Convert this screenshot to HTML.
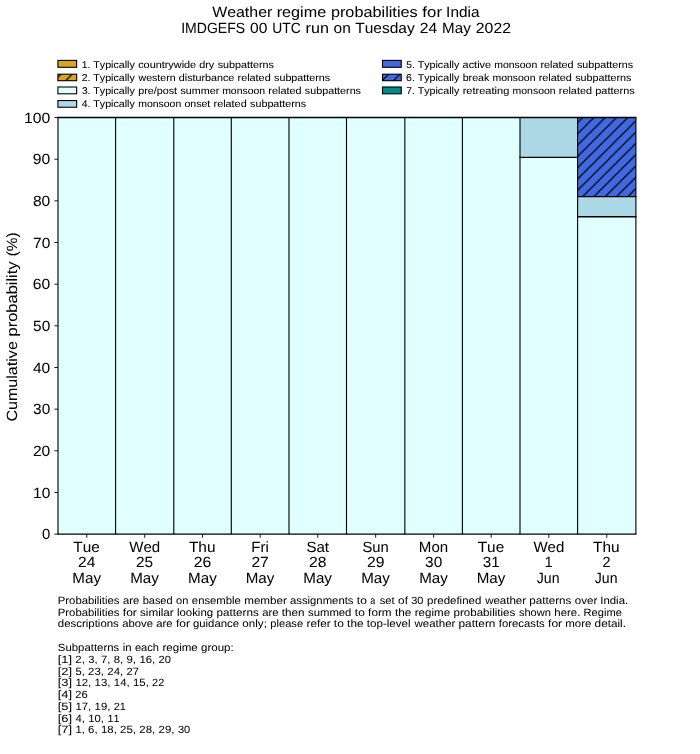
<!DOCTYPE html>
<html><head><meta charset="utf-8"><title>Weather regime probabilities for India</title>
<style>
html,body{margin:0;padding:0;background:#fff;width:700px;height:754px;overflow:hidden;}
svg{display:block;will-change:transform;}
text{font-family:"Liberation Sans",sans-serif;fill:#000;text-rendering:geometricPrecision;stroke:#000;stroke-width:0.03px;font-kerning:none;font-variant-ligatures:none;}
</style></head><body>
<svg width="700" height="754" viewBox="0 0 700 754">
<defs><pattern id="hb" patternUnits="userSpaceOnUse" x="-0.450" y="0" width="11.300" height="11.300"><path d="M-1.000,12.300L12.300,-1.000M-1,1L1,-1M10.300,12.300L12.300,10.300" stroke="#000" stroke-width="1.2" fill="none"/></pattern></defs>
<rect x="0" y="0" width="700" height="754" fill="#fff"/>
<text x="212.18" y="17.20" font-size="14.80" textLength="60.10" lengthAdjust="spacingAndGlyphs">Weather</text><text x="276.68" y="17.20" font-size="14.80" textLength="49.47" lengthAdjust="spacingAndGlyphs">regime</text><text x="330.90" y="17.20" font-size="14.80" textLength="86.79" lengthAdjust="spacingAndGlyphs">probabilities</text><text x="422.38" y="17.20" font-size="14.80" textLength="19.61" lengthAdjust="spacingAndGlyphs">for</text><text x="446.14" y="17.20" font-size="14.80" textLength="33.36" lengthAdjust="spacingAndGlyphs">India</text>
<text x="181.21" y="32.70" font-size="14.80" textLength="63.86" lengthAdjust="spacingAndGlyphs">IMDGEFS</text><text x="249.99" y="32.70" font-size="14.80" textLength="17.32" lengthAdjust="spacingAndGlyphs">00</text><text x="272.28" y="32.70" font-size="14.80" textLength="28.38" lengthAdjust="spacingAndGlyphs">UTC</text><text x="305.58" y="32.70" font-size="14.80" textLength="23.28" lengthAdjust="spacingAndGlyphs">run</text><text x="333.63" y="32.70" font-size="14.80" textLength="17.25" lengthAdjust="spacingAndGlyphs">on</text><text x="355.19" y="32.70" font-size="14.80" textLength="59.46" lengthAdjust="spacingAndGlyphs">Tuesday</text><text x="419.78" y="32.70" font-size="14.80" textLength="17.36" lengthAdjust="spacingAndGlyphs">24</text><text x="442.08" y="32.70" font-size="14.80" textLength="28.64" lengthAdjust="spacingAndGlyphs">May</text><text x="475.83" y="32.70" font-size="14.80" textLength="35.10" lengthAdjust="spacingAndGlyphs">2022</text>
<rect x="57.90" y="60.40" width="18.75" height="6.90" fill="#DAA520" stroke="none"/>
<rect x="57.90" y="60.40" width="18.75" height="6.90" fill="none" stroke="#000" stroke-width="1.1"/>
<text x="81.86" y="67.60" font-size="9.87" textLength="8.65" lengthAdjust="spacingAndGlyphs" style="stroke-width:0.06px">1.</text><text x="93.29" y="67.60" font-size="9.87" textLength="41.57" lengthAdjust="spacingAndGlyphs" style="stroke-width:0.06px">Typically</text><text x="138.19" y="67.60" font-size="9.87" textLength="57.93" lengthAdjust="spacingAndGlyphs" style="stroke-width:0.06px">countrywide</text><text x="199.19" y="67.60" font-size="9.87" textLength="15.08" lengthAdjust="spacingAndGlyphs" style="stroke-width:0.06px">dry</text><text x="217.74" y="67.60" font-size="9.87" textLength="56.13" lengthAdjust="spacingAndGlyphs" style="stroke-width:0.06px">subpatterns</text>
<rect x="57.90" y="74.20" width="18.75" height="6.50" fill="#DAA520" stroke="none"/>
<rect x="57.90" y="74.20" width="18.75" height="6.50" fill="url(#hb)" stroke="none"/>
<rect x="57.90" y="74.20" width="18.75" height="6.50" fill="none" stroke="#000" stroke-width="1.1"/>
<text x="81.76" y="80.80" font-size="9.87" textLength="8.76" lengthAdjust="spacingAndGlyphs" style="stroke-width:0.06px">2.</text><text x="93.29" y="80.80" font-size="9.87" textLength="41.57" lengthAdjust="spacingAndGlyphs" style="stroke-width:0.06px">Typically</text><text x="138.56" y="80.80" font-size="9.87" textLength="37.08" lengthAdjust="spacingAndGlyphs" style="stroke-width:0.06px">western</text><text x="178.84" y="80.80" font-size="9.87" textLength="55.53" lengthAdjust="spacingAndGlyphs" style="stroke-width:0.06px">disturbance</text><text x="237.54" y="80.80" font-size="9.87" textLength="33.13" lengthAdjust="spacingAndGlyphs" style="stroke-width:0.06px">related</text><text x="274.06" y="80.80" font-size="9.87" textLength="56.13" lengthAdjust="spacingAndGlyphs" style="stroke-width:0.06px">subpatterns</text>
<rect x="57.90" y="87.00" width="18.75" height="6.80" fill="#E0FFFF" stroke="none"/>
<rect x="57.90" y="87.00" width="18.75" height="6.80" fill="none" stroke="#000" stroke-width="1.1"/>
<text x="81.92" y="93.95" font-size="9.87" textLength="8.57" lengthAdjust="spacingAndGlyphs" style="stroke-width:0.06px">3.</text><text x="93.29" y="93.95" font-size="9.87" textLength="41.57" lengthAdjust="spacingAndGlyphs" style="stroke-width:0.06px">Typically</text><text x="138.28" y="93.95" font-size="9.87" textLength="38.78" lengthAdjust="spacingAndGlyphs" style="stroke-width:0.06px">pre/post</text><text x="180.43" y="93.95" font-size="9.87" textLength="38.79" lengthAdjust="spacingAndGlyphs" style="stroke-width:0.06px">summer</text><text x="222.15" y="93.95" font-size="9.87" textLength="42.98" lengthAdjust="spacingAndGlyphs" style="stroke-width:0.06px">monsoon</text><text x="268.37" y="93.95" font-size="9.87" textLength="33.13" lengthAdjust="spacingAndGlyphs" style="stroke-width:0.06px">related</text><text x="304.89" y="93.95" font-size="9.87" textLength="56.13" lengthAdjust="spacingAndGlyphs" style="stroke-width:0.06px">subpatterns</text>
<rect x="57.90" y="100.54" width="18.75" height="6.70" fill="#ADD8E6" stroke="none"/>
<rect x="57.90" y="100.54" width="18.75" height="6.70" fill="none" stroke="#000" stroke-width="1.1"/>
<text x="81.81" y="106.80" font-size="9.87" textLength="8.69" lengthAdjust="spacingAndGlyphs" style="stroke-width:0.06px">4.</text><text x="93.29" y="106.80" font-size="9.87" textLength="41.57" lengthAdjust="spacingAndGlyphs" style="stroke-width:0.06px">Typically</text><text x="138.28" y="106.80" font-size="9.87" textLength="42.98" lengthAdjust="spacingAndGlyphs" style="stroke-width:0.06px">monsoon</text><text x="184.42" y="106.80" font-size="9.87" textLength="25.86" lengthAdjust="spacingAndGlyphs" style="stroke-width:0.06px">onset</text><text x="213.56" y="106.80" font-size="9.87" textLength="33.13" lengthAdjust="spacingAndGlyphs" style="stroke-width:0.06px">related</text><text x="250.08" y="106.80" font-size="9.87" textLength="56.13" lengthAdjust="spacingAndGlyphs" style="stroke-width:0.06px">subpatterns</text>
<rect x="382.50" y="60.40" width="18.75" height="6.90" fill="#4169E1" stroke="none"/>
<rect x="382.50" y="60.40" width="18.75" height="6.90" fill="none" stroke="#000" stroke-width="1.1"/>
<text x="406.32" y="67.60" font-size="9.87" textLength="8.58" lengthAdjust="spacingAndGlyphs" style="stroke-width:0.06px">5.</text><text x="417.69" y="67.60" font-size="9.87" textLength="41.57" lengthAdjust="spacingAndGlyphs" style="stroke-width:0.06px">Typically</text><text x="462.64" y="67.60" font-size="9.87" textLength="28.44" lengthAdjust="spacingAndGlyphs" style="stroke-width:0.06px">active</text><text x="494.24" y="67.60" font-size="9.87" textLength="42.98" lengthAdjust="spacingAndGlyphs" style="stroke-width:0.06px">monsoon</text><text x="540.46" y="67.60" font-size="9.87" textLength="33.13" lengthAdjust="spacingAndGlyphs" style="stroke-width:0.06px">related</text><text x="576.98" y="67.60" font-size="9.87" textLength="56.13" lengthAdjust="spacingAndGlyphs" style="stroke-width:0.06px">subpatterns</text>
<rect x="382.50" y="74.20" width="18.75" height="6.50" fill="#4169E1" stroke="none"/>
<rect x="382.50" y="74.20" width="18.75" height="6.50" fill="url(#hb)" stroke="none"/>
<rect x="382.50" y="74.20" width="18.75" height="6.50" fill="none" stroke="#000" stroke-width="1.1"/>
<text x="406.13" y="80.80" font-size="9.87" textLength="8.79" lengthAdjust="spacingAndGlyphs" style="stroke-width:0.06px">6.</text><text x="417.69" y="80.80" font-size="9.87" textLength="41.57" lengthAdjust="spacingAndGlyphs" style="stroke-width:0.06px">Typically</text><text x="462.69" y="80.80" font-size="9.87" textLength="26.61" lengthAdjust="spacingAndGlyphs" style="stroke-width:0.06px">break</text><text x="492.48" y="80.80" font-size="9.87" textLength="42.98" lengthAdjust="spacingAndGlyphs" style="stroke-width:0.06px">monsoon</text><text x="538.70" y="80.80" font-size="9.87" textLength="33.13" lengthAdjust="spacingAndGlyphs" style="stroke-width:0.06px">related</text><text x="575.22" y="80.80" font-size="9.87" textLength="56.13" lengthAdjust="spacingAndGlyphs" style="stroke-width:0.06px">subpatterns</text>
<rect x="382.50" y="87.00" width="18.75" height="6.80" fill="#008B8B" stroke="none"/>
<rect x="382.50" y="87.00" width="18.75" height="6.80" fill="none" stroke="#000" stroke-width="1.1"/>
<text x="406.26" y="93.95" font-size="9.87" textLength="8.64" lengthAdjust="spacingAndGlyphs" style="stroke-width:0.06px">7.</text><text x="417.69" y="93.95" font-size="9.87" textLength="41.57" lengthAdjust="spacingAndGlyphs" style="stroke-width:0.06px">Typically</text><text x="462.66" y="93.95" font-size="9.87" textLength="46.67" lengthAdjust="spacingAndGlyphs" style="stroke-width:0.06px">retreating</text><text x="512.62" y="93.95" font-size="9.87" textLength="42.98" lengthAdjust="spacingAndGlyphs" style="stroke-width:0.06px">monsoon</text><text x="558.84" y="93.95" font-size="9.87" textLength="33.13" lengthAdjust="spacingAndGlyphs" style="stroke-width:0.06px">related</text><text x="595.28" y="93.95" font-size="9.87" textLength="39.40" lengthAdjust="spacingAndGlyphs" style="stroke-width:0.06px">patterns</text>
<rect x="58.00" y="117.53" width="462.00" height="416.62" fill="#E0FFFF"/>
<rect x="520.00" y="157.40" width="57.60" height="376.75" fill="#E0FFFF"/>
<rect x="520.00" y="117.53" width="57.60" height="39.87" fill="#ADD8E6"/>
<rect x="577.60" y="216.70" width="58.30" height="317.45" fill="#E0FFFF"/>
<rect x="577.60" y="196.55" width="58.30" height="20.15" fill="#ADD8E6"/>
<rect x="577.60" y="117.53" width="58.30" height="79.02" fill="#4169E1"/>
<rect x="577.60" y="117.53" width="58.30" height="79.02" fill="url(#hb)"/>
<line x1="58.00" y1="117.53" x2="58.00" y2="534.15" stroke="#000" stroke-width="1.12"/>
<line x1="115.60" y1="117.53" x2="115.60" y2="534.15" stroke="#000" stroke-width="1.12"/>
<line x1="173.80" y1="117.53" x2="173.80" y2="534.15" stroke="#000" stroke-width="1.12"/>
<line x1="231.30" y1="117.53" x2="231.30" y2="534.15" stroke="#000" stroke-width="1.12"/>
<line x1="289.00" y1="117.53" x2="289.00" y2="534.15" stroke="#000" stroke-width="1.12"/>
<line x1="346.50" y1="117.53" x2="346.50" y2="534.15" stroke="#000" stroke-width="1.12"/>
<line x1="404.85" y1="117.53" x2="404.85" y2="534.15" stroke="#000" stroke-width="1.12"/>
<line x1="462.40" y1="117.53" x2="462.40" y2="534.15" stroke="#000" stroke-width="1.12"/>
<line x1="520.00" y1="117.53" x2="520.00" y2="534.15" stroke="#000" stroke-width="1.12"/>
<line x1="577.60" y1="117.53" x2="577.60" y2="534.15" stroke="#000" stroke-width="1.12"/>
<line x1="635.90" y1="117.53" x2="635.90" y2="534.15" stroke="#000" stroke-width="1.12"/>
<line x1="57.44" y1="117.53" x2="636.46" y2="117.53" stroke="#000" stroke-width="1.35"/>
<line x1="57.44" y1="534.15" x2="636.46" y2="534.15" stroke="#000" stroke-width="1.35"/>
<line x1="519.44" y1="157.40" x2="578.16" y2="157.40" stroke="#000" stroke-width="1.35"/>
<line x1="577.04" y1="216.70" x2="636.46" y2="216.70" stroke="#000" stroke-width="1.35"/>
<line x1="577.04" y1="196.55" x2="636.46" y2="196.55" stroke="#000" stroke-width="1.35"/>
<line x1="54.40" y1="534.15" x2="58.00" y2="534.15" stroke="#000" stroke-width="0.9"/>
<text x="41.95" y="539.45" font-size="14.80" textLength="8.28" lengthAdjust="spacingAndGlyphs">0</text>
<line x1="54.40" y1="492.49" x2="58.00" y2="492.49" stroke="#000" stroke-width="0.9"/>
<text x="33.05" y="497.79" font-size="14.80" textLength="17.22" lengthAdjust="spacingAndGlyphs">10</text>
<line x1="54.40" y1="450.83" x2="58.00" y2="450.83" stroke="#000" stroke-width="0.9"/>
<text x="32.90" y="456.13" font-size="14.80" textLength="17.37" lengthAdjust="spacingAndGlyphs">20</text>
<line x1="54.40" y1="409.16" x2="58.00" y2="409.16" stroke="#000" stroke-width="0.9"/>
<text x="33.14" y="414.46" font-size="14.80" textLength="17.13" lengthAdjust="spacingAndGlyphs">30</text>
<line x1="54.40" y1="367.50" x2="58.00" y2="367.50" stroke="#000" stroke-width="0.9"/>
<text x="32.98" y="372.80" font-size="14.80" textLength="17.29" lengthAdjust="spacingAndGlyphs">40</text>
<line x1="54.40" y1="325.84" x2="58.00" y2="325.84" stroke="#000" stroke-width="0.9"/>
<text x="33.14" y="331.14" font-size="14.80" textLength="17.13" lengthAdjust="spacingAndGlyphs">50</text>
<line x1="54.40" y1="284.18" x2="58.00" y2="284.18" stroke="#000" stroke-width="0.9"/>
<text x="32.87" y="289.48" font-size="14.80" textLength="17.41" lengthAdjust="spacingAndGlyphs">60</text>
<line x1="54.40" y1="242.52" x2="58.00" y2="242.52" stroke="#000" stroke-width="0.9"/>
<text x="33.05" y="247.82" font-size="14.80" textLength="17.22" lengthAdjust="spacingAndGlyphs">70</text>
<line x1="54.40" y1="200.85" x2="58.00" y2="200.85" stroke="#000" stroke-width="0.9"/>
<text x="32.95" y="206.15" font-size="14.80" textLength="17.32" lengthAdjust="spacingAndGlyphs">80</text>
<line x1="54.40" y1="159.19" x2="58.00" y2="159.19" stroke="#000" stroke-width="0.9"/>
<text x="32.80" y="164.49" font-size="14.80" textLength="17.48" lengthAdjust="spacingAndGlyphs">90</text>
<line x1="54.40" y1="117.53" x2="58.00" y2="117.53" stroke="#000" stroke-width="0.9"/>
<text x="24.07" y="122.83" font-size="14.80" textLength="26.24" lengthAdjust="spacingAndGlyphs">100</text>
<line x1="86.80" y1="534.15" x2="86.80" y2="537.75" stroke="#000" stroke-width="0.9"/>
<text x="73.32" y="551.50" font-size="14.80" textLength="26.48" lengthAdjust="spacingAndGlyphs">Tue</text>
<text x="78.07" y="567.20" font-size="14.80" textLength="17.36" lengthAdjust="spacingAndGlyphs">24</text>
<text x="72.34" y="582.90" font-size="14.80" textLength="28.64" lengthAdjust="spacingAndGlyphs">May</text>
<line x1="144.70" y1="534.15" x2="144.70" y2="537.75" stroke="#000" stroke-width="0.9"/>
<text x="129.30" y="551.50" font-size="14.80" textLength="30.87" lengthAdjust="spacingAndGlyphs">Wed</text>
<text x="135.98" y="567.20" font-size="14.80" textLength="17.11" lengthAdjust="spacingAndGlyphs">25</text>
<text x="130.24" y="582.90" font-size="14.80" textLength="28.64" lengthAdjust="spacingAndGlyphs">May</text>
<line x1="202.55" y1="534.15" x2="202.55" y2="537.75" stroke="#000" stroke-width="0.9"/>
<text x="188.92" y="551.50" font-size="14.80" textLength="26.59" lengthAdjust="spacingAndGlyphs">Thu</text>
<text x="193.82" y="567.20" font-size="14.80" textLength="17.50" lengthAdjust="spacingAndGlyphs">26</text>
<text x="188.09" y="582.90" font-size="14.80" textLength="28.64" lengthAdjust="spacingAndGlyphs">May</text>
<line x1="260.15" y1="534.15" x2="260.15" y2="537.75" stroke="#000" stroke-width="0.9"/>
<text x="251.39" y="551.50" font-size="14.80" textLength="17.36" lengthAdjust="spacingAndGlyphs">Fri</text>
<text x="251.43" y="567.20" font-size="14.80" textLength="17.28" lengthAdjust="spacingAndGlyphs">27</text>
<text x="245.69" y="582.90" font-size="14.80" textLength="28.64" lengthAdjust="spacingAndGlyphs">May</text>
<line x1="317.75" y1="534.15" x2="317.75" y2="537.75" stroke="#000" stroke-width="0.9"/>
<text x="306.43" y="551.50" font-size="14.80" textLength="22.65" lengthAdjust="spacingAndGlyphs">Sat</text>
<text x="309.02" y="567.20" font-size="14.80" textLength="17.42" lengthAdjust="spacingAndGlyphs">28</text>
<text x="303.29" y="582.90" font-size="14.80" textLength="28.64" lengthAdjust="spacingAndGlyphs">May</text>
<line x1="375.68" y1="534.15" x2="375.68" y2="537.75" stroke="#000" stroke-width="0.9"/>
<text x="362.51" y="551.50" font-size="14.80" textLength="26.34" lengthAdjust="spacingAndGlyphs">Sun</text>
<text x="366.94" y="567.20" font-size="14.80" textLength="17.42" lengthAdjust="spacingAndGlyphs">29</text>
<text x="361.22" y="582.90" font-size="14.80" textLength="28.64" lengthAdjust="spacingAndGlyphs">May</text>
<line x1="433.62" y1="534.15" x2="433.62" y2="537.75" stroke="#000" stroke-width="0.9"/>
<text x="418.88" y="551.50" font-size="14.80" textLength="29.37" lengthAdjust="spacingAndGlyphs">Mon</text>
<text x="425.14" y="567.20" font-size="14.80" textLength="17.13" lengthAdjust="spacingAndGlyphs">30</text>
<text x="419.17" y="582.90" font-size="14.80" textLength="28.64" lengthAdjust="spacingAndGlyphs">May</text>
<line x1="491.20" y1="534.15" x2="491.20" y2="537.75" stroke="#000" stroke-width="0.9"/>
<text x="477.72" y="551.50" font-size="14.80" textLength="26.48" lengthAdjust="spacingAndGlyphs">Tue</text>
<text x="482.72" y="567.20" font-size="14.80" textLength="16.91" lengthAdjust="spacingAndGlyphs">31</text>
<text x="476.74" y="582.90" font-size="14.80" textLength="28.64" lengthAdjust="spacingAndGlyphs">May</text>
<line x1="548.80" y1="534.15" x2="548.80" y2="537.75" stroke="#000" stroke-width="0.9"/>
<text x="533.40" y="551.50" font-size="14.80" textLength="30.87" lengthAdjust="spacingAndGlyphs">Wed</text>
<text x="544.80" y="567.20" font-size="14.80" textLength="7.87" lengthAdjust="spacingAndGlyphs">1</text>
<text x="536.83" y="582.90" font-size="14.80" textLength="22.70" lengthAdjust="spacingAndGlyphs">Jun</text>
<line x1="606.75" y1="534.15" x2="606.75" y2="537.75" stroke="#000" stroke-width="0.9"/>
<text x="593.12" y="551.50" font-size="14.80" textLength="26.59" lengthAdjust="spacingAndGlyphs">Thu</text>
<text x="602.57" y="567.20" font-size="14.80" textLength="8.00" lengthAdjust="spacingAndGlyphs">2</text>
<text x="594.78" y="582.90" font-size="14.80" textLength="22.70" lengthAdjust="spacingAndGlyphs">Jun</text>
<g transform="translate(16.80,326.90) rotate(-90)"><text x="-94.73" y="0.00" font-size="14.80" textLength="80.48" lengthAdjust="spacingAndGlyphs">Cumulative</text><text x="-9.53" y="0.00" font-size="14.80" textLength="74.96" lengthAdjust="spacingAndGlyphs">probability</text><text x="70.55" y="0.00" font-size="14.80" textLength="23.88" lengthAdjust="spacingAndGlyphs">(%)</text></g>
<text x="57.79" y="603.90" font-size="10.56" textLength="61.69" lengthAdjust="spacingAndGlyphs">Probabilities</text><text x="122.92" y="603.90" font-size="10.56" textLength="16.30" lengthAdjust="spacingAndGlyphs">are</text><text x="142.67" y="603.90" font-size="10.56" textLength="29.95" lengthAdjust="spacingAndGlyphs">based</text><text x="176.13" y="603.90" font-size="10.56" textLength="12.31" lengthAdjust="spacingAndGlyphs">on</text><text x="191.85" y="603.90" font-size="10.56" textLength="49.05" lengthAdjust="spacingAndGlyphs">ensemble</text><text x="244.26" y="603.90" font-size="10.56" textLength="42.58" lengthAdjust="spacingAndGlyphs">member</text><text x="289.96" y="603.90" font-size="10.56" textLength="63.55" lengthAdjust="spacingAndGlyphs">assignments</text><text x="356.89" y="603.90" font-size="10.56" textLength="9.94" lengthAdjust="spacingAndGlyphs">to</text><text x="370.31" y="603.90" font-size="10.56" textLength="5.01" lengthAdjust="spacingAndGlyphs">a</text><text x="379.70" y="603.90" font-size="10.56" textLength="14.95" lengthAdjust="spacingAndGlyphs">set</text><text x="398.08" y="603.90" font-size="10.56" textLength="9.83" lengthAdjust="spacingAndGlyphs">of</text><text x="411.27" y="603.90" font-size="10.56" textLength="12.22" lengthAdjust="spacingAndGlyphs">30</text><text x="427.08" y="603.90" font-size="10.56" textLength="54.23" lengthAdjust="spacingAndGlyphs">predefined</text><text x="485.15" y="603.90" font-size="10.56" textLength="40.96" lengthAdjust="spacingAndGlyphs">weather</text><text x="529.26" y="603.90" font-size="10.56" textLength="42.16" lengthAdjust="spacingAndGlyphs">patterns</text><text x="574.76" y="603.90" font-size="10.56" textLength="22.57" lengthAdjust="spacingAndGlyphs">over</text><text x="600.25" y="603.90" font-size="10.56" textLength="27.91" lengthAdjust="spacingAndGlyphs">India.</text>
<text x="57.79" y="615.67" font-size="10.56" textLength="61.69" lengthAdjust="spacingAndGlyphs">Probabilities</text><text x="122.84" y="615.67" font-size="10.56" textLength="13.99" lengthAdjust="spacingAndGlyphs">for</text><text x="140.06" y="615.67" font-size="10.56" textLength="33.67" lengthAdjust="spacingAndGlyphs">similar</text><text x="176.94" y="615.67" font-size="10.56" textLength="36.14" lengthAdjust="spacingAndGlyphs">looking</text><text x="216.60" y="615.67" font-size="10.56" textLength="42.16" lengthAdjust="spacingAndGlyphs">patterns</text><text x="262.15" y="615.67" font-size="10.56" textLength="16.30" lengthAdjust="spacingAndGlyphs">are</text><text x="281.81" y="615.67" font-size="10.56" textLength="22.68" lengthAdjust="spacingAndGlyphs">then</text><text x="308.04" y="615.67" font-size="10.56" textLength="43.37" lengthAdjust="spacingAndGlyphs">summed</text><text x="354.89" y="615.67" font-size="10.56" textLength="9.94" lengthAdjust="spacingAndGlyphs">to</text><text x="368.14" y="615.67" font-size="10.56" textLength="23.50" lengthAdjust="spacingAndGlyphs">form</text><text x="395.02" y="615.67" font-size="10.56" textLength="16.40" lengthAdjust="spacingAndGlyphs">the</text><text x="414.78" y="615.67" font-size="10.56" textLength="35.30" lengthAdjust="spacingAndGlyphs">regime</text><text x="453.46" y="615.67" font-size="10.56" textLength="61.92" lengthAdjust="spacingAndGlyphs">probabilities</text><text x="518.94" y="615.67" font-size="10.56" textLength="31.98" lengthAdjust="spacingAndGlyphs">shown</text><text x="554.38" y="615.67" font-size="10.56" textLength="25.92" lengthAdjust="spacingAndGlyphs">here.</text><text x="583.62" y="615.67" font-size="10.56" textLength="38.23" lengthAdjust="spacingAndGlyphs">Regime</text>
<text x="57.81" y="627.44" font-size="10.56" textLength="61.02" lengthAdjust="spacingAndGlyphs">descriptions</text><text x="122.25" y="627.44" font-size="10.56" textLength="30.69" lengthAdjust="spacingAndGlyphs">above</text><text x="156.30" y="627.44" font-size="10.56" textLength="16.30" lengthAdjust="spacingAndGlyphs">are</text><text x="175.91" y="627.44" font-size="10.56" textLength="13.99" lengthAdjust="spacingAndGlyphs">for</text><text x="192.96" y="627.44" font-size="10.56" textLength="46.11" lengthAdjust="spacingAndGlyphs">guidance</text><text x="242.37" y="627.44" font-size="10.56" textLength="24.50" lengthAdjust="spacingAndGlyphs">only;</text><text x="270.37" y="627.44" font-size="10.56" textLength="32.71" lengthAdjust="spacingAndGlyphs">please</text><text x="306.49" y="627.44" font-size="10.56" textLength="24.23" lengthAdjust="spacingAndGlyphs">refer</text><text x="333.83" y="627.44" font-size="10.56" textLength="9.94" lengthAdjust="spacingAndGlyphs">to</text><text x="347.13" y="627.44" font-size="10.56" textLength="16.40" lengthAdjust="spacingAndGlyphs">the</text><text x="366.84" y="627.44" font-size="10.56" textLength="43.79" lengthAdjust="spacingAndGlyphs">top-level</text><text x="414.43" y="627.44" font-size="10.56" textLength="40.96" lengthAdjust="spacingAndGlyphs">weather</text><text x="458.54" y="627.44" font-size="10.56" textLength="36.90" lengthAdjust="spacingAndGlyphs">pattern</text><text x="498.80" y="627.44" font-size="10.56" textLength="45.99" lengthAdjust="spacingAndGlyphs">forecasts</text><text x="548.13" y="627.44" font-size="10.56" textLength="13.99" lengthAdjust="spacingAndGlyphs">for</text><text x="565.24" y="627.44" font-size="10.56" textLength="26.11" lengthAdjust="spacingAndGlyphs">more</text><text x="594.64" y="627.44" font-size="10.56" textLength="31.39" lengthAdjust="spacingAndGlyphs">detail.</text>
<text x="57.88" y="650.98" font-size="10.56" textLength="61.32" lengthAdjust="spacingAndGlyphs">Subpatterns</text><text x="122.66" y="650.98" font-size="10.56" textLength="8.85" lengthAdjust="spacingAndGlyphs">in</text><text x="134.93" y="650.98" font-size="10.56" textLength="24.03" lengthAdjust="spacingAndGlyphs">each</text><text x="162.46" y="650.98" font-size="10.56" textLength="35.30" lengthAdjust="spacingAndGlyphs">regime</text><text x="201.06" y="650.98" font-size="10.56" textLength="32.64" lengthAdjust="spacingAndGlyphs">group:</text>
<text x="57.69" y="662.75" font-size="10.56" textLength="14.36" lengthAdjust="spacingAndGlyphs">[1]</text><text x="75.34" y="662.75" font-size="10.56" textLength="9.49" lengthAdjust="spacingAndGlyphs">2,</text><text x="88.32" y="662.75" font-size="10.56" textLength="9.30" lengthAdjust="spacingAndGlyphs">3,</text><text x="101.04" y="662.75" font-size="10.56" textLength="9.37" lengthAdjust="spacingAndGlyphs">7,</text><text x="113.77" y="662.75" font-size="10.56" textLength="9.45" lengthAdjust="spacingAndGlyphs">8,</text><text x="126.45" y="662.75" font-size="10.56" textLength="9.58" lengthAdjust="spacingAndGlyphs">9,</text><text x="139.42" y="662.75" font-size="10.56" textLength="15.81" lengthAdjust="spacingAndGlyphs">16,</text><text x="158.53" y="662.75" font-size="10.56" textLength="12.40" lengthAdjust="spacingAndGlyphs">20</text>
<text x="57.69" y="674.52" font-size="10.56" textLength="14.36" lengthAdjust="spacingAndGlyphs">[2]</text><text x="75.52" y="674.52" font-size="10.56" textLength="9.30" lengthAdjust="spacingAndGlyphs">5,</text><text x="88.14" y="674.52" font-size="10.56" textLength="15.92" lengthAdjust="spacingAndGlyphs">23,</text><text x="107.33" y="674.52" font-size="10.56" textLength="15.92" lengthAdjust="spacingAndGlyphs">24,</text><text x="126.54" y="674.52" font-size="10.56" textLength="12.33" lengthAdjust="spacingAndGlyphs">27</text>
<text x="57.69" y="686.29" font-size="10.56" textLength="14.36" lengthAdjust="spacingAndGlyphs">[3]</text><text x="75.44" y="686.29" font-size="10.56" textLength="15.81" lengthAdjust="spacingAndGlyphs">12,</text><text x="94.63" y="686.29" font-size="10.56" textLength="15.81" lengthAdjust="spacingAndGlyphs">13,</text><text x="113.82" y="686.29" font-size="10.56" textLength="15.81" lengthAdjust="spacingAndGlyphs">14,</text><text x="133.02" y="686.29" font-size="10.56" textLength="15.81" lengthAdjust="spacingAndGlyphs">15,</text><text x="152.14" y="686.29" font-size="10.56" textLength="12.19" lengthAdjust="spacingAndGlyphs">22</text>
<text x="57.69" y="698.06" font-size="10.56" textLength="14.36" lengthAdjust="spacingAndGlyphs">[4]</text><text x="75.35" y="698.06" font-size="10.56" textLength="12.48" lengthAdjust="spacingAndGlyphs">26</text>
<text x="57.69" y="709.83" font-size="10.56" textLength="14.36" lengthAdjust="spacingAndGlyphs">[5]</text><text x="75.44" y="709.83" font-size="10.56" textLength="15.81" lengthAdjust="spacingAndGlyphs">17,</text><text x="94.63" y="709.83" font-size="10.56" textLength="15.81" lengthAdjust="spacingAndGlyphs">19,</text><text x="113.75" y="709.83" font-size="10.56" textLength="12.24" lengthAdjust="spacingAndGlyphs">21</text>
<text x="57.69" y="721.60" font-size="10.56" textLength="14.36" lengthAdjust="spacingAndGlyphs">[6]</text><text x="75.41" y="721.60" font-size="10.56" textLength="9.42" lengthAdjust="spacingAndGlyphs">4,</text><text x="88.23" y="721.60" font-size="10.56" textLength="15.81" lengthAdjust="spacingAndGlyphs">10,</text><text x="107.46" y="721.60" font-size="10.56" textLength="12.11" lengthAdjust="spacingAndGlyphs">11</text>
<text x="57.69" y="733.37" font-size="10.56" textLength="14.36" lengthAdjust="spacingAndGlyphs">[7]</text><text x="75.45" y="733.37" font-size="10.56" textLength="9.38" lengthAdjust="spacingAndGlyphs">1,</text><text x="88.11" y="733.37" font-size="10.56" textLength="9.52" lengthAdjust="spacingAndGlyphs">6,</text><text x="101.03" y="733.37" font-size="10.56" textLength="15.81" lengthAdjust="spacingAndGlyphs">18,</text><text x="120.13" y="733.37" font-size="10.56" textLength="15.92" lengthAdjust="spacingAndGlyphs">25,</text><text x="139.32" y="733.37" font-size="10.56" textLength="15.92" lengthAdjust="spacingAndGlyphs">28,</text><text x="158.52" y="733.37" font-size="10.56" textLength="15.92" lengthAdjust="spacingAndGlyphs">29,</text><text x="177.90" y="733.37" font-size="10.56" textLength="12.22" lengthAdjust="spacingAndGlyphs">30</text>
</svg>
</body></html>
